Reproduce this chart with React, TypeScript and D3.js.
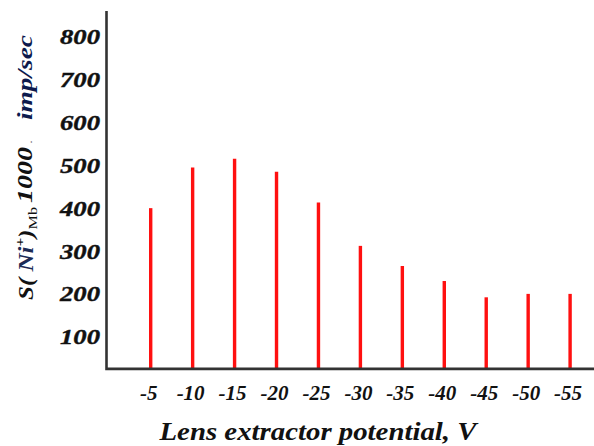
import React from "react";
import * as d3 from "d3";

// Lens extractor potential, V
const potentials = [-5, -10, -15, -20, -25, -30, -35, -40, -45, -50, -55];
// Ni+ signal, 1000 imp/sec
const signal = [400, 495, 515, 485, 413, 312, 265, 230, 192, 200, 200];
const yTicks = [100, 200, 300, 400, 500, 600, 700, 800];
const baseValue = 25;

const W = 594;
const H = 446;

export default function App() {
  const x = d3.scaleLinear().domain([-5, -55]).range([150.7, 570.1]);
  const y = d3.scaleLinear().domain([0, 800]).range([379.6, 36.7]);
  const y0 = y(baseValue);
  const font = "'Liberation Serif', 'Times New Roman', serif";

  return (
    <svg
      width={W}
      height={H}
      viewBox={`0 0 ${W} ${H}`}
      style={{ position: "absolute", left: 0, top: 0, background: "#fff" }}
    >
      {/* stems */}
      <g stroke="#ff1010" strokeWidth={3.4}>
        {potentials.map((p, i) => (
          <line key={p} x1={x(p)} x2={x(p)} y1={y0} y2={y(signal[i])} />
        ))}
      </g>

      {/* axes */}
      <path
        d={`M106.5,11 V${y0} H${W}`}
        fill="none"
        stroke="#333"
        strokeWidth={2.6}
      />

      {/* y tick labels */}
      <g fontFamily={font} fontWeight="bold" fontStyle="italic" fontSize={21} fill="#111"
         stroke="#111" strokeWidth={0.4}>
        {yTicks.map((t) => (
          <text
            key={t}
            x={100}
            y={y(t) + 7.5}
            textAnchor="end"
            textLength={40}
            lengthAdjust="spacingAndGlyphs"
          >
            {t}
          </text>
        ))}
      </g>

      {/* x tick labels */}
      <g fontFamily={font} fontWeight="bold" fontStyle="italic" fontSize={21} fill="#111">
        {potentials.map((p) => (
          <text key={p} x={x(p) - 2} y={400} textAnchor="middle">
            {p}
          </text>
        ))}
      </g>

      {/* x title */}
      <text
        x={318}
        y={440}
        textAnchor="middle"
        fontFamily={font}
        fontWeight="bold"
        fontStyle="italic"
        fontSize={25}
        fill="#111"
        textLength={317}
        lengthAdjust="spacingAndGlyphs"
      >
        Lens extractor potential, V
      </text>

      {/* y title */}
      <g
        transform="rotate(-90)"
        fontFamily={font}
        fontWeight="bold"
        fontStyle="italic"
        fill="#111"
      >
        <text x={-300} y={33} fontSize={20} textLength={93} lengthAdjust="spacingAndGlyphs">
          <tspan>S(</tspan>
          <tspan fill="#1b2a55"> Ni</tspan>
          <tspan fontSize={12} dy={-9}>+</tspan>
          <tspan dy={9}>)</tspan>
          <tspan fontSize={13} fontWeight="normal" fontStyle="normal" dy={4}>Mb</tspan>
        </text>
        <text x={-203} y={32} fontSize={22} textLength={56} lengthAdjust="spacingAndGlyphs">
          1000
        </text>
        <text x={-143} y={32} fontSize={10} fontWeight="normal">.</text>
        <text x={-120} y={32} fontSize={22} fill="#0d1a4d" textLength={85} lengthAdjust="spacingAndGlyphs">
          imp/sec
        </text>
      </g>
    </svg>
  );
}
